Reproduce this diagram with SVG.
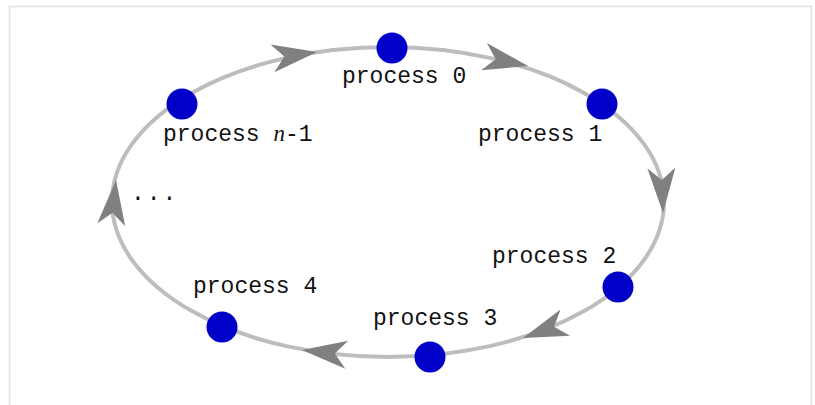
<svg xmlns="http://www.w3.org/2000/svg" width="815" height="405" viewBox="0 0 815 405">
<style>
.frame{fill:none;stroke:#e2e2e2;stroke-width:1.5}
.ring{fill:none;stroke:#bdbdbd;stroke-width:4}
.node{fill:#0000c8}
.lbl{font-family:"Liberation Mono","Courier New",monospace;font-size:23px;fill:#111}
.it{font-family:"Liberation Serif","Times New Roman",serif;font-style:italic}
.head{fill:#808080}
</style>
<defs>
<path id="ah" d="M0,0 L-45,-14 L-33,0 L-45,14 Z"/>
</defs>
<rect x="0" y="0" width="815" height="405" fill="#fff"/>
<path class="frame" d="M9.5,406 V6.5 H811.5 V406"/>
<g id="connectors">
<ellipse class="ring" cx="388" cy="202" rx="276" ry="155"/>
<use href="#ah" class="head" transform="translate(317,52) rotate(-8)"/>
<use href="#ah" class="head" transform="translate(528,66) rotate(12)"/>
<use href="#ah" class="head" transform="translate(663,213) rotate(88)"/>
<use href="#ah" class="head" transform="translate(523,338) rotate(160)"/>
<use href="#ah" class="head" transform="translate(302,350) rotate(186)"/>
<use href="#ah" class="head" transform="translate(116,180) rotate(-84)"/>
</g>
<g id="p0"><circle class="node" cx="392" cy="48" r="15.5"/><text class="lbl" x="342" y="83">process 0</text></g>
<g id="p1"><circle class="node" cx="602" cy="104" r="15.5"/><text class="lbl" x="478" y="141">process 1</text></g>
<g id="p2"><circle class="node" cx="618" cy="287" r="15.5"/><text class="lbl" x="492" y="263">process 2</text></g>
<g id="p3"><circle class="node" cx="430" cy="357" r="15.5"/><text class="lbl" x="373" y="325">process 3</text></g>
<g id="p4"><circle class="node" cx="222" cy="327" r="15.5"/><text class="lbl" x="193" y="293">process 4</text></g>
<g id="pn1"><circle class="node" cx="182" cy="104" r="15.5"/><text class="lbl" x="163" y="141">process <tspan class="it">n</tspan>-1</text></g>
<g id="dots"><text class="lbl" x="131" y="200" letter-spacing="2">...</text></g>
</svg>
